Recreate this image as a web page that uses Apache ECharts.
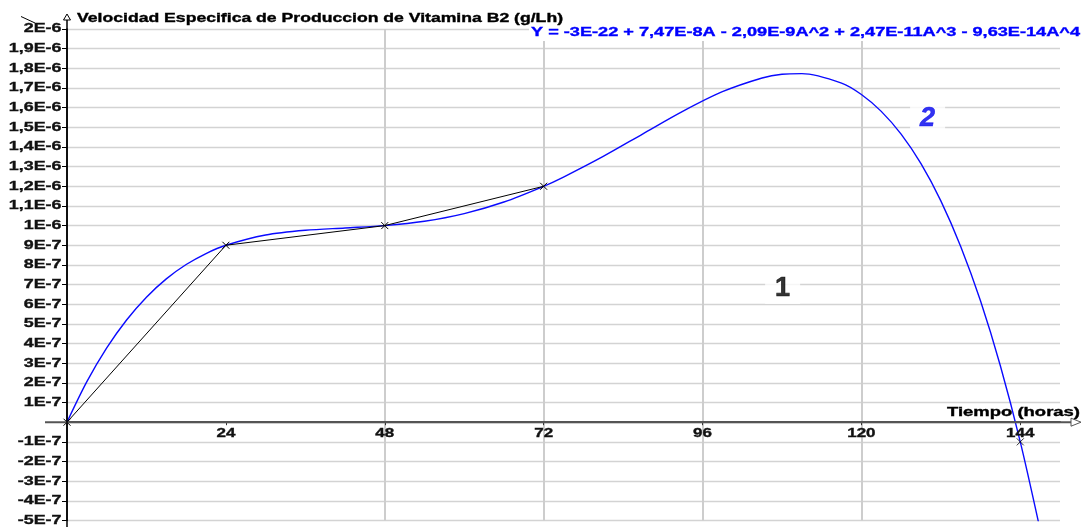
<!DOCTYPE html>
<html>
<head>
<meta charset="utf-8">
<script src="https://cdn.jsdelivr.net/npm/echarts@6/dist/echarts.min.js"></script>
<style>
  html, body { margin: 0; padding: 0; background: #fff; }
  #chart { width: 1084px; height: 527px; }
</style>
</head>
<body>
<div id="chart"></div>
<script>
// Velocidad especifica de produccion (unidades de 1E-7 g/Lh) frente al tiempo (horas)

// Puntos experimentales unidos por tramos rectos
const sampleHours = [0, 24, 48, 72];
const sampleRate = [0, 9, 10, 12];

// Punto suelto al final del cultivo
const lateHours = [144];
const lateRate = [-1];

// Curva de ajuste polinomico (azul)
const fitHours = [0, 3, 6, 9, 12, 15, 18, 21, 24, 30, 36, 42, 48, 54, 60, 66, 72, 75, 81, 87, 93, 99, 105, 108, 111, 117, 120, 123, 126, 129, 132, 135, 138, 141, 144, 147];
const fitRate = [0, 2.06, 3.78, 5.20, 6.36, 7.29, 8.02, 8.58, 9.00, 9.52, 9.76, 9.88, 10.00, 10.22, 10.61, 11.20, 12.00, 12.47, 13.52, 14.67, 15.81, 16.81, 17.51, 17.70, 17.73, 17.25, 16.67, 15.81, 14.65, 13.15, 11.26, 8.94, 6.16, 2.86, -1.00, -5.47];

// Etiquetas de los ejes
const xTickValues = [24, 48, 72, 96, 120, 144];
const xTickLabels = ['24', '48', '72', '96', '120', '144'];
const yTickValues = [20, 19, 18, 17, 16, 15, 14, 13, 12, 11, 10, 9, 8, 7, 6, 5, 4, 3, 2, 1, -1, -2, -3, -4, -5];
const yTickLabels = ['2E-6', '1,9E-6', '1,8E-6', '1,7E-6', '1,6E-6', '1,5E-6', '1,4E-6', '1,3E-6', '1,2E-6', '1,1E-6', '1E-6',
  '9E-7', '8E-7', '7E-7', '6E-7', '5E-7', '4E-7', '3E-7', '2E-7', '1E-7', '-1E-7', '-2E-7', '-3E-7', '-4E-7', '-5E-7'];

// Marcas numeradas de las curvas
const markTexts = ['1', '2'];
const markHours = [108.1, 130];
const markRates = [6.8, 15.45];

const titleText = 'Velocidad Especifica de Produccion de Vitamina B2 (g/Lh)';
const equationText = 'Y = -3E-22 + 7,47E-8A - 2,09E-9A^2 + 2,47E-11A^3 - 9,63E-14A^4';
const xAxisName = 'Tiempo (horas)';

const FONT = '"Liberation Sans", Arial, sans-serif';
const TEXT_FONT = 'bold 12.5px ' + FONT;
const TICK_STRETCH = 1.43;   // rotulado ancho de las marcas de los ejes
const crossSymbol = 'path://M0 0L10 10M10 0L0 10';

// Medida del texto para colocar los rotulos ensanchados
const measureCtx = document.createElement('canvas').getContext('2d');
measureCtx.font = TEXT_FONT;
const textWidth = s => measureCtx.measureText(s).width;

const chart = echarts.init(document.getElementById('chart'), null, { renderer: 'canvas' });

chart.setOption({
  animation: false,
  backgroundColor: '#fff',
  grid: { left: 67, right: 24, top: 29, bottom: 6.5, containLabel: false, outerBoundsMode: 'none' },
  xAxis: {
    type: 'value', min: 0, max: 150, interval: 24,
    axisLine: { show: true, onZero: true, lineStyle: { color: '#555', width: 2 } },
    axisTick: { show: true, customValues: xTickValues, length: 3, lineStyle: { color: '#333', width: 1 } },
    axisLabel: { show: false },
    splitLine: { show: true, showMinLine: false, showMaxLine: false, lineStyle: { color: '#cdcdcd', width: 2 } }
  },
  yAxis: {
    type: 'value', min: -5, max: 20, interval: 1,
    axisLine: { show: true, onZero: false, lineStyle: { color: '#000', width: 1.5 } },
    axisTick: { show: true, length: 5, lineStyle: { color: '#000', width: 1 } },
    axisLabel: { show: false },
    splitLine: { show: true, lineStyle: { color: '#d3d3d3', width: 1.3 } }
  },
  series: [
    {
      name: 'ajuste', type: 'line', z: 3, clip: true,
      data: fitHours.map((h, i) => [h, fitRate[i]]),
      smooth: 0.3, showSymbol: false,
      lineStyle: { color: '#0a0aff', width: 1.4 }
    },
    {
      name: 'muestras', type: 'line', z: 4,
      data: sampleHours.map((h, i) => [h, sampleRate[i]]),
      symbol: crossSymbol, symbolSize: 7,
      lineStyle: { color: '#000', width: 1 },
      itemStyle: { color: '#000', borderColor: '#000', borderWidth: 1 }
    },
    {
      name: 'final', type: 'scatter', z: 4,
      data: lateHours.map((h, i) => [h, lateRate[i]]),
      symbol: crossSymbol, symbolSize: 7,
      itemStyle: { color: '#000', borderColor: '#000', borderWidth: 1 }
    },
    {
      name: 'marcas', type: 'scatter', z: 5, symbolSize: 0, silent: true,
      data: markTexts.map((t, i) => ({
        value: [markHours[i], markRates[i]],
        label: {
          show: true, position: 'inside', formatter: t,
          fontFamily: FONT, fontWeight: 'bold', fontSize: 27,
          fontStyle: i === 1 ? 'italic' : 'normal',
          color: i === 1 ? '#0000ee' : '#000',
          textBorderColor: i === 1 ? '#0000ee' : '#000', textBorderWidth: 0.6,
          backgroundColor: '#fff', padding: [2, 10]
        }
      }))
    }
  ]
});

// Ejes con flecha, rotulos de las marcas y textos de cabecera
const toPx = p => chart.convertToPixel({ gridIndex: 0 }, p);
const origin = toPx([0, 0]);
const topPt = toPx([0, 20]);
const rightPt = toPx([150, 0]);
const x0 = origin[0], y0 = origin[1];

// Texto ensanchado: 'left' es el borde izquierdo final; stretch escala horizontalmente
const wideText = (text, left, y, stretch, fill) => ({
  type: 'text', z: 10, x: left, y: y, scaleX: stretch,
  style: {
    text: text, fill: fill || '#000', font: TEXT_FONT, align: 'left', verticalAlign: 'middle',
    stroke: fill || '#000', lineWidth: 0.35
  }
});
// Ajusta un texto a un ancho dado
const fitText = (text, left, y, width, fill) => wideText(text, left, y, width / textWidth(text), fill);

const graphics = [
  { type: 'line', z: 10, shape: { x1: x0 - 22, y1: y0, x2: rightPt[0] + 12, y2: y0 }, style: { stroke: '#555', lineWidth: 2 } },
  { type: 'polygon', z: 10, shape: { points: [[rightPt[0] + 11, y0 - 4], [rightPt[0] + 21, y0], [rightPt[0] + 11, y0 + 4]] }, style: { stroke: '#555', fill: '#fff', lineWidth: 1 } },
  { type: 'line', z: 10, shape: { x1: x0, y1: 527, x2: x0, y2: topPt[1] - 10 }, style: { stroke: '#000', lineWidth: 1.5 } },
  { type: 'polygon', z: 10, shape: { points: [[x0 - 3.5, topPt[1] - 9], [x0, topPt[1] - 15], [x0 + 3.5, topPt[1] - 9]] }, style: { stroke: '#000', fill: '#fff', lineWidth: 1 } },
  { type: 'line', z: 10, shape: { x1: 21, y1: 16.5, x2: 35, y2: 23 }, style: { stroke: '#000', lineWidth: 1 } },
  fitText(titleText, 77, 19, 486),
  { type: 'rect', z: 9, shape: { x: 529, y: 25, width: 555, height: 16 }, style: { fill: '#fff' } },
  fitText(equationText, 531, 33, 549, '#0000ff'),
  fitText(xAxisName, 947, 413, 133)
];

yTickValues.forEach((v, i) => {
  const p = toPx([0, v]);
  const w = textWidth(yTickLabels[i]) * TICK_STRETCH;
  graphics.push(wideText(yTickLabels[i], p[0] - 5.5 - w, p[1], TICK_STRETCH, '#111'));
});
xTickValues.forEach((v, i) => {
  const p = toPx([v, 0]);
  const w = textWidth(xTickLabels[i]) * TICK_STRETCH * 0.95;
  graphics.push(wideText(xTickLabels[i], p[0] - w / 2, p[1] + 11.5, TICK_STRETCH * 0.95, '#111'));
});

chart.setOption({ graphic: graphics });
</script>
</body>
</html>
